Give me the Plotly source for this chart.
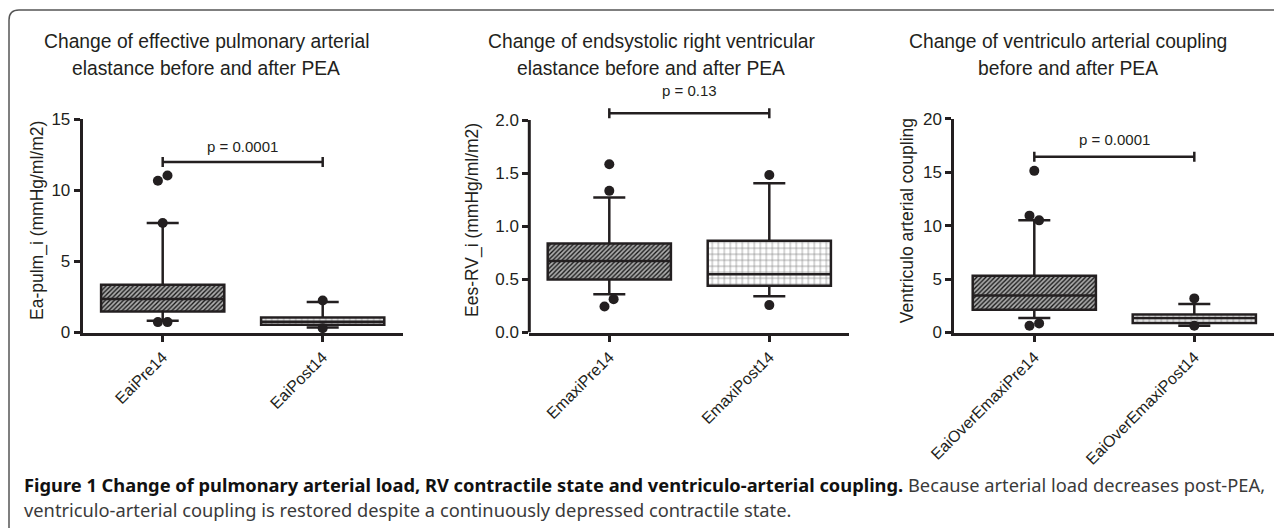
import plotly.graph_objects as go

W, H = 1282, 528

# ---------------- data ----------------
cats_ea = ["EaiPre14", "EaiPost14"]
cats_es = ["EmaxiPre14", "EmaxiPost14"]
cats_va = ["EaiOverEmaxiPre14", "EaiOverEmaxiPost14"]

# Panel 1: effective pulmonary arterial elastance
ea_q1 = [1.48, 0.54]
ea_med = [2.35, 0.75]
ea_q3 = [3.36, 1.06]
ea_lo = [0.82, 0.35]
ea_hi = [7.70, 2.14]
ea_out_grp = [0, 0, 0, 0, 0, 1, 1]
ea_out_y = [11.05, 10.68, 7.70, 0.73, 0.73, 2.25, 0.30]
ea_out_dx = [0.03, -0.03, 0.0, -0.03, 0.03, 0.0, 0.0]

# Panel 2: endsystolic RV elastance
es_q1 = [0.50, 0.44]
es_med = [0.674, 0.549]
es_q3 = [0.837, 0.863]
es_lo = [0.36, 0.342]
es_hi = [1.27, 1.405]
es_out_grp = [0, 0, 0, 0, 1, 1]
es_out_y = [1.584, 1.333, 0.314, 0.245, 1.483, 0.258]
es_out_dx = [0.0, 0.0, 0.027, -0.03, 0.0, 0.0]

# Panel 3: ventriculo-arterial coupling
va_q1 = [2.13, 0.88]
va_med = [3.47, 1.35]
va_q3 = [5.32, 1.69]
va_lo = [1.35, 0.63]
va_hi = [10.49, 2.67]
va_out_grp = [0, 0, 0, 0, 0, 1, 1]
va_out_y = [15.12, 10.93, 10.49, 0.63, 0.85, 3.19, 0.63]
va_out_dx = [0.0, -0.03, 0.03, -0.03, 0.03, 0.0, 0.0]

p_labels = ["p = 0.0001", "p = 0.13", "p = 0.0001"]
p_levels = [12.0, 2.063, 16.43]

titles = [
    ("Change of effective pulmonary arterial", "elastance before and after PEA"),
    ("Change of endsystolic right ventricular", "elastance before and after PEA"),
    ("Change of ventriculo arterial coupling", "before and after PEA"),
]
ytitles = ["Ea-pulm_i (mmHg/ml/m2)", "Ees-RV_i (mmHg/ml/m2)", "Ventriculo arterial coupling"]
ytickvals = [[0, 5, 10, 15], [0, 0.5, 1.0, 1.5, 2.0], [0, 5, 10, 15, 20]]
yticktext = [["0", "5", "10", "15"], ["0.0", "0.5", "1.0", "1.5", "2.0"], ["0", "5", "10", "15", "20"]]

caption_bold = "Figure 1 Change of pulmonary arterial load, RV contractile state and ventriculo-arterial coupling."
caption_rest1 = "Because arterial load decreases post-PEA,"
caption_line2 = "ventriculo-arterial coupling is restored despite a continuously depressed contractile state."

# ---------------- layout helpers ----------------
# the page places the plot 8 px in from the top-left corner (body margin)
OFF = 8


def px(x):
    return (x - OFF) / W


def py(y):
    return 1 - (y - OFF) / H


FONT = "Liberation Sans, Arial, Helvetica, sans-serif"
CAPFONT = "Noto Sans, sans-serif"
INK = "#231f20"

# fill styles for pre (hatched) and post (brick-like) boxes
BOX_STYLES = [
    dict(shape="/", fgcolor="#151515", bgcolor="#ababab", size=3.2, solidity=0.42),
    dict(shape="+", fgcolor="#7a7a7a", bgcolor="#ffffff", size=6, solidity=0.2),
]

panels = [
    dict(cats=cats_ea, q1=ea_q1, med=ea_med, q3=ea_q3, lo=ea_lo, hi=ea_hi,
         og=ea_out_grp, oy=ea_out_y, odx=ea_out_dx),
    dict(cats=cats_es, q1=es_q1, med=es_med, q3=es_q3, lo=es_lo, hi=es_hi,
         og=es_out_grp, oy=es_out_y, odx=es_out_dx),
    dict(cats=cats_va, q1=va_q1, med=va_med, q3=va_q3, lo=va_lo, hi=va_hi,
         og=va_out_grp, oy=va_out_y, odx=va_out_dx),
]

x_dom_px = [(82.7, 402.7), (529.3, 849.3), (954.3, 1274.3)]
y_bottom_px = 332.5
y_top_px = [119.3, 107.25, 118.7]
y_ranges = [[0, 15], [0, 2.12], [0, 20]]
title_cx = [206, 651, 1068]
ytitle_cx = [37.5, 472.5, 906.7]
p_shift = [15, 23, 17]

fig = go.Figure()
shapes = []
annotations = []
layout_axes = {}

for i, p in enumerate(panels):
    n = "" if i == 0 else str(i + 1)
    xa, ya = "x" + n, "y" + n
    pos = list(range(len(p["cats"])))

    # patterned box bodies, one trace per group
    for k in pos:
        st = BOX_STYLES[k]
        fig.add_trace(go.Bar(
            x=[k], y=[p["q3"][k] - p["q1"][k]], base=[p["q1"][k]], width=0.77,
            xaxis=xa, yaxis=ya,
            marker=dict(color=st["bgcolor"], line=dict(width=0),
                        pattern=dict(shape=st["shape"], fgcolor=st["fgcolor"],
                                     bgcolor=st["bgcolor"], size=st["size"],
                                     solidity=st["solidity"], fgopacity=1,
                                     fillmode="replace")),
            hoverinfo="skip",
        ))
    # box outlines, medians and whiskers
    fig.add_trace(go.Box(
        x=pos, q1=p["q1"], median=p["med"], q3=p["q3"],
        lowerfence=p["lo"], upperfence=p["hi"],
        width=0.77, whiskerwidth=0.26, boxpoints=False,
        fillcolor="rgba(0,0,0,0)", line=dict(color=INK, width=2.5),
        xaxis=xa, yaxis=ya, hoverinfo="skip",
    ))
    # outlying points
    fig.add_trace(go.Scatter(
        x=[g + d for g, d in zip(p["og"], p["odx"])], y=p["oy"],
        mode="markers", marker=dict(color=INK, size=10),
        xaxis=xa, yaxis=ya, hoverinfo="skip", cliponaxis=False,
    ))

    x0, x1 = x_dom_px[i]
    layout_axes["xaxis" + n] = dict(
        domain=[px(x0), px(x1)], range=[-0.5, 1.5], anchor=ya,
        tickvals=pos, ticktext=p["cats"], tickangle=-45,
        ticks="outside", ticklen=6, tickwidth=2.5, tickcolor=INK,
        showline=True, linewidth=3, linecolor=INK,
        showgrid=False, zeroline=False, fixedrange=True, automargin=False,
        tickfont=dict(family=FONT, size=16, color=INK),
    )
    layout_axes["yaxis" + n] = dict(
        domain=[py(y_bottom_px), py(y_top_px[i])], range=y_ranges[i], anchor=xa,
        tickvals=ytickvals[i], ticktext=yticktext[i],
        ticks="outside", ticklen=6, tickwidth=2.5, tickcolor=INK,
        showline=(i != 1), linewidth=3, linecolor=INK,
        showgrid=False, zeroline=False, fixedrange=True, automargin=False,
        tickfont=dict(family=FONT, size=17, color=INK),
    )
    if i == 1:
        # y axis line only up to the last tick (bracket sits above it)
        shapes.append(dict(type="line", xref=xa + " domain", yref=ya,
                           x0=0, x1=0, y0=ytickvals[i][0], y1=ytickvals[i][-1],
                           line=dict(color=INK, width=3)))

    # significance bracket
    lvl = p_levels[i]
    shapes.append(dict(type="line", xref=xa, yref=ya, x0=pos[0], x1=pos[1],
                       y0=lvl, y1=lvl, line=dict(color=INK, width=2.5)))
    for xp in pos:
        shapes.append(dict(type="line", xref=xa, yref=ya, x0=xp, x1=xp,
                           ysizemode="pixel", yanchor=lvl, y0=-5, y1=5,
                           line=dict(color=INK, width=2.5)))
    annotations.append(dict(xref=xa, yref=ya, x=0.5, y=lvl, yshift=p_shift[i],
                            text=p_labels[i], showarrow=False,
                            xanchor="center", yanchor="middle",
                            font=dict(family=FONT, size=15, color=INK)))

    # panel title (two lines)
    for j, line in enumerate(titles[i]):
        annotations.append(dict(xref="paper", yref="paper", x=px(title_cx[i]),
                                y=py(41 + 28 * j), text=line, showarrow=False,
                                xanchor="center", yanchor="middle",
                                font=dict(family=FONT, size=19.3, color=INK)))
    # y axis title
    annotations.append(dict(xref="paper", yref="paper", x=px(ytitle_cx[i]),
                            y=py(220.5), text=ytitles[i], showarrow=False,
                            textangle=-90, xanchor="center", yanchor="middle",
                            font=dict(family=FONT, size=17.5, color=INK)))

# caption
annotations.append(dict(xref="paper", yref="paper", x=px(22), y=py(484),
                        xanchor="left", yanchor="middle", showarrow=False,
                        text="<b>" + caption_bold + "</b> "
                             + "<span style='color:#3a3a3a'>" + caption_rest1 + "</span>",
                        font=dict(family=CAPFONT, size=18.3, color="#111111")))
annotations.append(dict(xref="paper", yref="paper", x=px(22), y=py(509),
                        xanchor="left", yanchor="middle", showarrow=False,
                        text=caption_line2,
                        font=dict(family=CAPFONT, size=18.3, color="#3a3a3a")))

# outer rounded frame
shapes.append(dict(type="path", xref="paper", yref="paper",
                   path=(f"M {px(9)},{py(540)} L {px(9)},{py(20)} "
                         f"Q {px(9)},{py(10)} {px(19)},{py(10)} L {px(1295)},{py(10)}"),
                   line=dict(color="#555555", width=1.5)))

fig.update_layout(
    width=W, height=H, margin=dict(l=0, r=0, t=0, b=0),
    paper_bgcolor="white", plot_bgcolor="white",
    showlegend=False, barmode="overlay", boxmode="overlay",
    shapes=shapes, annotations=annotations, **layout_axes,
)

fig.write_html("out.html", config={"displayModeBar": False})
